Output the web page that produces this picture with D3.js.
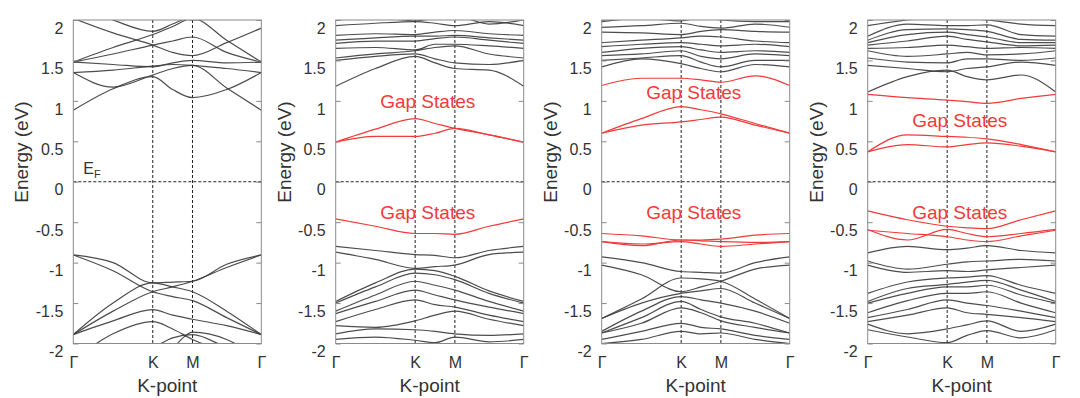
<!DOCTYPE html>
<html>
<head>
<meta charset="utf-8">
<script src="https://cdnjs.cloudflare.com/ajax/libs/d3/7.8.5/d3.min.js"></script>
<style>
  body { margin: 0; background: #fff; }
  text { font-family: "Liberation Sans", Arial, sans-serif; fill: #333; }
</style>
</head>
<body>
<div id="chart"></div>
<script>
// high-symmetry path G-K-M-G (hexagonal), cumulative length
const kNodes = [0, 1, 1.5, 2.366];
const kLabels = ['Γ', 'K', 'M', 'Γ'];
// k positions where band energies were read
const kSamples = [0, 0.5, 1, 1.25, 1.5, 1.93, 2.366];

const yTicks = [-2, -1.5, -1, -0.5, 0, 0.5, 1, 1.5, 2];
const yTickLabels = ['-2', '-1.5', '-1', '-0.5', '0', '0.5', '1', '1.5', '2'];

// panel 1: pristine
const pristineBands = [
  [0.885, 1.15, 1.30, 1.14, 1.04, 1.14, 1.35],
  [1.35, 1.17, 1.32, 1.40, 1.44, 1.16, 0.885],
  [1.35, 1.38, 1.43, 1.45, 1.44, 1.40, 1.35],
  [1.48, 1.45, 1.42, 1.47, 1.50, 1.47, 1.48],
  [1.48, 1.58, 1.69, 1.74, 1.79, 1.60, 1.48],
  [1.48, 1.66, 1.82, 1.92, 2.02, 1.75, 1.48],
  [2.02, 1.84, 1.69, 1.60, 1.56, 1.72, 1.90],
  [2.20, 2.00, 1.86, 1.95, 2.05, 2.10, 2.20],
  [2.00, 2.08, 2.15, 2.06, 2.00, 2.04, 2.00],
  [-0.905, -1.00, -1.25, -1.24, -1.23, -1.02, -0.905],
  [-0.905, -1.10, -1.36, -1.42, -1.47, -1.68, -1.89],
  [-1.89, -1.60, -1.36, -1.30, -1.23, -1.06, -0.905],
  [-1.89, -1.50, -1.25, -1.30, -1.36, -1.60, -1.89],
  [-1.89, -1.72, -1.58, -1.65, -1.70, -1.78, -1.89],
  [-2.20, -1.88, -1.73, -1.82, -1.95, -2.10, -2.20],
  [-2.30, -2.15, -2.05, -1.93, -1.89, -2.05, -2.20],
  [-2.30, -2.30, -2.20, -2.05, -1.86, -1.95, -2.20]
];

// panel 2
const defect1Bands = [
  [1.18, 1.40, 1.55, 1.47, 1.40, 1.38, 1.18],
  [1.50, 1.55, 1.58, 1.52, 1.47, 1.45, 1.50],
  [1.53, 1.58, 1.62, 1.66, 1.68, 1.58, 1.53],
  [1.65, 1.66, 1.63, 1.70, 1.70, 1.68, 1.65],
  [1.71, 1.74, 1.74, 1.77, 1.79, 1.75, 1.71],
  [1.75, 1.78, 1.80, 1.80, 1.81, 1.78, 1.75],
  [1.81, 1.83, 1.82, 1.85, 1.87, 1.83, 1.81],
  [1.93, 1.96, 1.98, 1.96, 1.93, 1.98, 1.93],
  [2.00, 2.03, 1.99, 2.02, 2.05, 1.95, 2.00],
  [-0.80, -0.85, -0.90, -0.91, -0.94, -0.85, -0.80],
  [-0.87, -0.96, -1.07, -1.05, -1.03, -0.90, -0.87],
  [-1.48, -1.25, -1.08, -1.10, -1.17, -1.35, -1.48],
  [-1.50, -1.30, -1.13, -1.15, -1.21, -1.38, -1.50],
  [-1.60, -1.40, -1.23, -1.28, -1.34, -1.48, -1.60],
  [-1.63, -1.48, -1.34, -1.40, -1.46, -1.55, -1.63],
  [-1.73, -1.58, -1.46, -1.52, -1.55, -1.65, -1.73],
  [-1.78, -1.80, -1.72, -1.65, -1.60, -1.70, -1.78],
  [-1.88, -1.82, -1.83, -1.85, -1.88, -1.90, -1.88],
  [-1.95, -1.92, -1.96, -1.99, -1.92, -1.98, -1.95]
];
const defect1Gap = [
  [0.49, 0.65, 0.78, 0.72, 0.66, 0.58, 0.49],
  [0.49, 0.56, 0.56, 0.60, 0.66, 0.58, 0.49],
  [-0.46, -0.55, -0.64, -0.64, -0.65, -0.55, -0.46]
];

// panel 3
const defect2Bands = [
  [1.42, 1.52, 1.46, 1.40, 1.36, 1.45, 1.42],
  [1.50, 1.53, 1.56, 1.48, 1.42, 1.50, 1.50],
  [1.56, 1.58, 1.62, 1.55, 1.52, 1.58, 1.56],
  [1.60, 1.65, 1.67, 1.63, 1.60, 1.62, 1.60],
  [1.67, 1.70, 1.72, 1.70, 1.68, 1.70, 1.67],
  [1.72, 1.75, 1.78, 1.80, 1.79, 1.74, 1.72],
  [1.85, 1.84, 1.82, 1.86, 1.88, 1.86, 1.85],
  [1.91, 1.93, 1.96, 1.92, 1.90, 1.95, 1.91],
  [1.98, 2.02, 1.99, 2.03, 2.00, 1.98, 1.98],
  [-0.93, -1.00, -1.11, -1.12, -1.13, -1.00, -0.93],
  [-1.03, -1.15, -1.36, -1.30, -1.23, -1.08, -1.03],
  [-1.69, -1.45, -1.19, -1.20, -1.23, -1.45, -1.69],
  [-1.69, -1.50, -1.38, -1.35, -1.32, -1.50, -1.69],
  [-1.85, -1.60, -1.42, -1.46, -1.50, -1.60, -1.75],
  [-1.87, -1.68, -1.48, -1.58, -1.67, -1.75, -1.87],
  [-1.87, -1.75, -1.56, -1.62, -1.72, -1.80, -1.87],
  [-1.95, -1.85, -1.75, -1.80, -1.82, -1.90, -1.95],
  [-2.00, -1.95, -1.85, -1.88, -1.87, -1.95, -2.00]
];
const defect2Gap = [
  [1.19, 1.28, 1.28, 1.26, 1.23, 1.31, 1.19],
  [0.60, 0.78, 0.93, 0.89, 0.84, 0.72, 0.60],
  [0.60, 0.70, 0.74, 0.77, 0.80, 0.70, 0.60],
  [-0.64, -0.67, -0.72, -0.72, -0.71, -0.66, -0.64],
  [-0.74, -0.79, -0.72, -0.73, -0.74, -0.75, -0.74],
  [-0.74, -0.77, -0.74, -0.77, -0.80, -0.77, -0.74]
];

// panel 4
const defect3Bands = [
  [1.11, 1.30, 1.38, 1.30, 1.26, 1.32, 1.11],
  [1.44, 1.40, 1.36, 1.40, 1.42, 1.48, 1.44],
  [1.53, 1.48, 1.47, 1.52, 1.52, 1.50, 1.53],
  [1.62, 1.55, 1.58, 1.60, 1.57, 1.58, 1.62],
  [1.65, 1.66, 1.69, 1.67, 1.65, 1.66, 1.65],
  [1.69, 1.74, 1.80, 1.76, 1.73, 1.68, 1.69],
  [1.72, 1.82, 1.85, 1.82, 1.79, 1.72, 1.72],
  [1.75, 1.88, 1.89, 1.88, 1.86, 1.76, 1.75],
  [1.80, 1.95, 1.93, 1.93, 1.94, 1.82, 1.80],
  [1.93, 2.00, 2.04, 2.02, 2.00, 1.95, 1.93],
  [-0.88, -0.80, -0.84, -0.82, -0.79, -0.85, -0.88],
  [-0.98, -1.08, -1.02, -0.99, -0.98, -0.96, -0.98],
  [-1.03, -1.12, -1.10, -1.11, -1.09, -1.06, -1.03],
  [-1.38, -1.24, -1.19, -1.18, -1.16, -1.28, -1.38],
  [-1.48, -1.32, -1.27, -1.24, -1.22, -1.34, -1.48],
  [-1.50, -1.38, -1.30, -1.30, -1.28, -1.40, -1.50],
  [-1.62, -1.47, -1.38, -1.38, -1.36, -1.50, -1.62],
  [-1.68, -1.58, -1.46, -1.50, -1.53, -1.60, -1.68],
  [-1.73, -1.65, -1.56, -1.62, -1.64, -1.68, -1.73],
  [-1.76, -1.88, -1.82, -1.77, -1.72, -1.85, -1.76],
  [-1.83, -1.92, -1.99, -1.90, -1.84, -1.93, -1.83]
];
const defect3Gap = [
  [1.08, 1.04, 1.01, 0.99, 0.97, 1.03, 1.08],
  [0.37, 0.58, 0.56, 0.55, 0.53, 0.46, 0.37],
  [0.37, 0.46, 0.43, 0.46, 0.48, 0.44, 0.37],
  [-0.36, -0.47, -0.55, -0.57, -0.58, -0.47, -0.36],
  [-0.59, -0.72, -0.59, -0.64, -0.68, -0.64, -0.59],
  [-0.60, -0.64, -0.68, -0.72, -0.74, -0.67, -0.60]
];

const panels = [
  { bands: pristineBands, gap: [], labels: [] },
  { bands: defect1Bands, gap: defect1Gap, labels: [1.0, -0.37] },
  { bands: defect2Bands, gap: defect2Gap, labels: [1.11, -0.37] },
  { bands: defect3Bands, gap: defect3Gap, labels: [0.76, -0.37] }
];

const W = 1080, H = 398;
const panelLefts = [73.3, 335.7, 601.7, 867.7];
const pw = 188, plotTop = 20, plotBottom = 343.5;

const svg = d3.select('#chart').append('svg')
  .attr('width', W).attr('height', H);

const x = d3.scaleLinear().domain([0, 2.366]).range([0, pw]);
const y = d3.scaleLinear().domain([-2, 2]).range([plotBottom, plotTop]);

const line = d3.line()
  .x((d, i) => x(kSamples[i]))
  .y(d => y(d))
  .curve(d3.curveMonotoneX);

panels.forEach((p, pi) => {
  const g = svg.append('g').attr('transform', `translate(${panelLefts[pi]},0)`);

  g.append('clipPath').attr('id', 'clip' + pi)
    .append('rect').attr('x', 0).attr('y', plotTop).attr('width', pw).attr('height', plotBottom - plotTop);

  const plot = g.append('g').attr('clip-path', `url(#clip${pi})`);

  // dashed guides at K, M and E_F
  plot.selectAll('.kline')
    .data(kNodes.slice(1, 3))
    .enter().append('line')
    .attr('x1', d => x(d)).attr('x2', d => x(d))
    .attr('y1', plotTop).attr('y2', plotBottom)
    .attr('stroke', '#222').attr('stroke-width', 1).attr('stroke-dasharray', '3,2');

  plot.append('line')
    .attr('x1', 0).attr('x2', pw)
    .attr('y1', y(0)).attr('y2', y(0))
    .attr('stroke', '#222').attr('stroke-width', 1).attr('stroke-dasharray', '3,2');

  plot.selectAll('.band')
    .data(p.bands)
    .enter().append('path')
    .attr('fill', 'none')
    .attr('stroke', '#3a3a3a')
    .attr('stroke-opacity', 0.9)
    .attr('stroke-width', 1.2)
    .attr('d', line);

  plot.selectAll('.gap')
    .data(p.gap)
    .enter().append('path')
    .attr('fill', 'none')
    .attr('stroke', '#f23a3a')
    .attr('stroke-width', 1.2)
    .attr('d', line);

  // frame
  g.append('rect')
    .attr('x', 0).attr('y', plotTop).attr('width', pw).attr('height', plotBottom - plotTop)
    .attr('fill', 'none').attr('stroke', '#8a8a8a').attr('stroke-width', 1);

  // inward ticks
  g.append('g')
    .call(d3.axisLeft(y).tickValues(yTicks).tickSize(-5).tickFormat(''))
    .call(a => a.select('.domain').remove())
    .selectAll('line').attr('stroke', '#8a8a8a');
  g.append('g').attr('transform', `translate(${pw},0)`)
    .call(d3.axisRight(y).tickValues(yTicks).tickSize(-5).tickFormat(''))
    .call(a => a.select('.domain').remove())
    .selectAll('line').attr('stroke', '#8a8a8a');

  // y labels (sit slightly below their ticks, as in the original)
  const yl = g.append('g')
    .call(d3.axisLeft(y).tickValues(yTicks).tickSize(0).tickPadding(10)
      .tickFormat((d, i) => yTickLabels[i]));
  yl.select('.domain').remove();
  yl.selectAll('text')
    .attr('y', 8)
    .style('font-size', '16px')
    .style('font-family', '"Liberation Sans", Arial, sans-serif')
    .attr('fill', '#333');

  // k labels
  const xl = g.append('g').attr('transform', `translate(0,${plotBottom})`)
    .call(d3.axisBottom(x).tickValues(kNodes).tickSize(0).tickPadding(13)
      .tickFormat((d, i) => kLabels[i]));
  xl.select('.domain').remove();
  xl.selectAll('text')
    .style('font-size', '16px')
    .style('font-family', '"Liberation Sans", Arial, sans-serif')
    .attr('fill', '#333');

  g.append('text')
    .attr('x', pw / 2).attr('y', 392)
    .attr('text-anchor', 'middle')
    .style('font-size', '19px')
    .text('K-point');

  g.append('text')
    .attr('transform', 'translate(-45,152) rotate(-90)')
    .attr('text-anchor', 'middle')
    .style('font-size', '19px')
    .text('Energy (eV)');

  g.selectAll('.gaplabel')
    .data(p.labels)
    .enter().append('text')
    .attr('x', 92).attr('y', d => y(d))
    .attr('dy', '0.36em')
    .attr('text-anchor', 'middle')
    .style('font-size', '19px')
    .style('fill', '#f23a3a')
    .text('Gap States');

  if (pi === 0) {
    const ef = g.append('text').attr('x', 10).attr('y', y(0) - 8).style('font-size', '16px');
    ef.append('tspan').text('E');
    ef.append('tspan').attr('dy', 4).style('font-size', '11px').text('F');
  }
});
</script>
</body>
</html>
